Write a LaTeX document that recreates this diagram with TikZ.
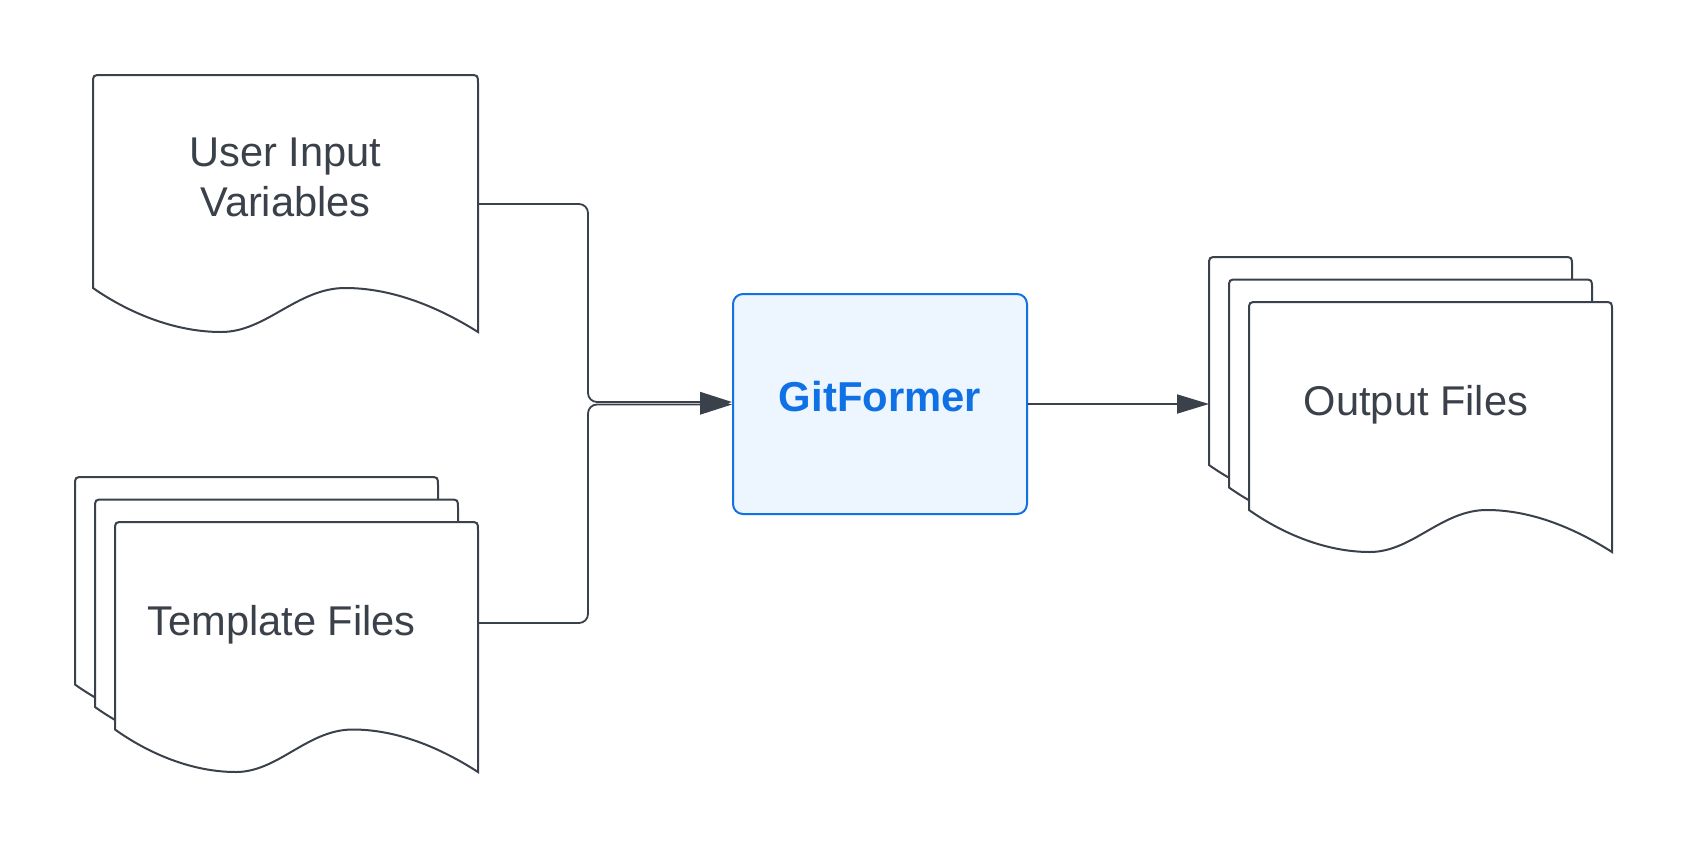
\documentclass[tikz,border=0pt]{standalone}
\usepackage{fontspec}
\setmainfont{Liberation Sans}
\usetikzlibrary{arrows.meta}
\definecolor{ink}{HTML}{3A414A}
\definecolor{gfblue}{HTML}{1071E5}
\definecolor{gffill}{HTML}{EDF5FF}
% #1 x, #2 y (top), #3 width, #4 height at left end, #5 height at right end
\newcommand\docsheet[5]{%
  \filldraw[sheet] (#1,{#2+#4}) -- (#1,{#2+9}) .. controls (#1,#2) .. ({#1+9},#2)
    -- ({#1+#3-9},#2) .. controls ({#1+#3},#2) .. ({#1+#3},{#2+9})
    -- ({#1+#3},{#2+#5})
    .. controls ({#1+0.90*#3},{#2+#4+0.45*(#5-#4)}) and ({#1+0.78*#3},{#2+#4}) .. ({#1+0.655*#3},{#2+#4})
    .. controls ({#1+0.53*#3},{#2+#4}) and ({#1+0.45*#3},{#2+#5}) .. ({#1+0.333*#3},{#2+#5})
    .. controls ({#1+0.21*#3},{#2+#5}) and ({#1+0.09*#3},{#2+#4+0.55*(#5-#4)}) .. (#1,{#2+#4})
    -- cycle;}
\tikzset{
  sheet/.style={draw=ink, fill=white, line width=2pt},
  lbl/.style={text=ink, font=\fontsize{41.6pt}{49.5pt}\selectfont, align=center, inner sep=0pt, anchor=base},
  gfbox/.style={draw=gfblue, fill=gffill, line width=2pt, rounded corners=10pt,
    minimum width=294pt, minimum height=220pt, inner sep=0pt},
  gflbl/.style={text=gfblue, font=\fontsize{41.8pt}{49pt}\selectfont\bfseries, inner sep=0pt, anchor=base},
  conn/.style={draw=ink, line width=1.8pt, rounded corners=9pt},
  tipL/.style={-{Triangle[length=32pt,width=20pt]}},
  tipR/.style={-{Triangle[length=32pt,width=19pt]}},
}
\begin{document}
\begin{tikzpicture}[x=1pt,y=-1pt]
\fill[white] (0,0) rectangle (1688,846);
\useasboundingbox (0,0) rectangle (1688,846);

% User Input Variables
\docsheet{93}{75}{385}{213}{257}
\node[lbl] (ut) at (285.5,216) {User Input\\Variables};

% Template Files (stack)
\docsheet{75}{477}{363}{207.5}{250}
\docsheet{95}{499.5}{363}{207.5}{250}
\docsheet{115}{522}{363}{207.5}{250}
\node[lbl] (tt) at (281.5,635) {Template Files};

% Output Files (stack)
\docsheet{1209}{257}{363}{208}{250}
\docsheet{1229}{279.5}{363}{208}{250}
\docsheet{1249}{302}{363}{208}{250}
\node[lbl] (ot) at (1416,415.7) {Output Files};

% GitFormer
\node[gfbox] (gf) at (880,404) {};
\node[gflbl] (gft) at (880,411) {GitFormer};

% connector anchors
\coordinate (ue) at (478,204);
\coordinate (te) at (478,623);
\coordinate (ow) at (1209,404);

\draw[conn,tipL] (ue) -- ++(110,0) |- ([yshift=2pt]gf.west);
\draw[conn,tipL] (te) -- ++(110,0) |- ([yshift=-0.5pt]gf.west);
\draw[conn,tipR] (gf.east) -- (ow);
\end{tikzpicture}
\end{document}
